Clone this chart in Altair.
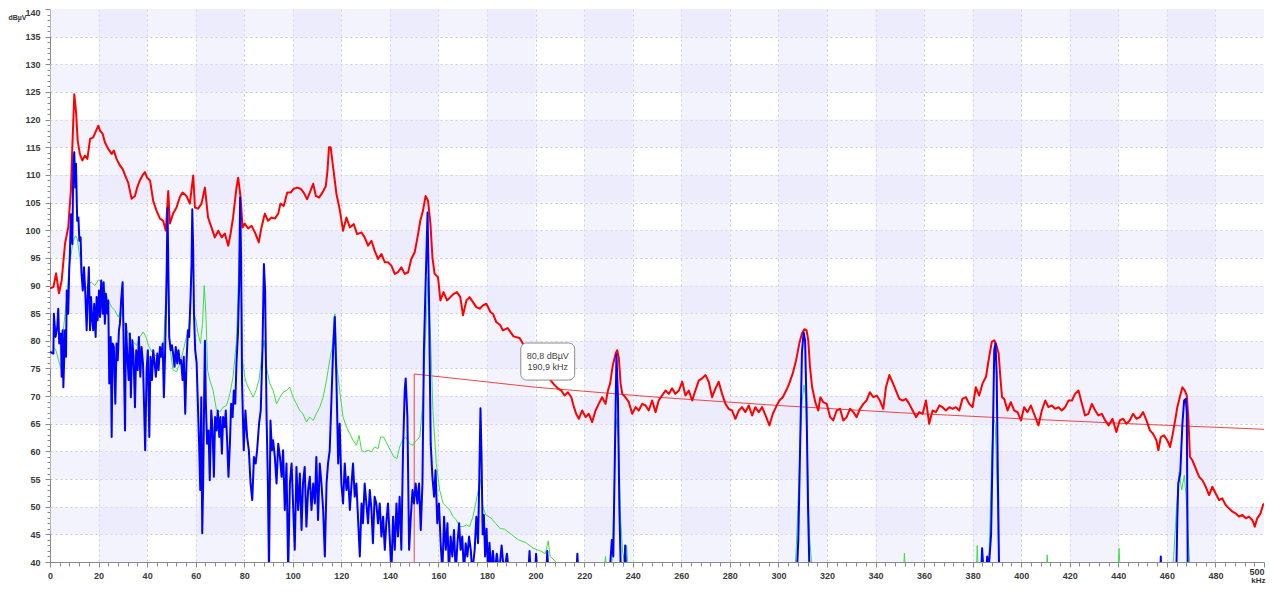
import altair as alt
import pandas as pd

# ---------------- data ----------------
red_khz = [0.0, 1.4, 2.5, 3.7, 4.8, 6.2, 7.5, 8.6, 9.2, 10.0, 10.7, 11.4, 12.3, 13.3, 14.4, 15.4, 16.5, 17.8, 19.0, 19.9,
           20.6, 21.7, 22.6, 24.0, 25.4, 26.3, 27.4, 28.8, 29.9, 31.3, 32.2, 33.6, 35.0, 35.9, 37.0, 38.1, 39.1, 40.0, 41.2, 42.5,
           43.9, 45.3, 46.6, 47.7, 48.7, 49.4, 50.7, 52.1, 53.5, 54.6, 56.2, 57.6, 59.0, 59.7, 61.0, 62.4, 63.8, 65.1, 66.5, 67.9,
           69.3, 70.7, 72.0, 73.4, 74.4, 75.4, 76.8, 77.5, 78.5, 79.3, 80.2, 81.6, 83.0, 84.4, 86.0, 87.1, 88.5, 89.8, 91.2, 92.6,
           94.0, 94.9, 96.3, 97.7, 99.1, 100.4, 101.8, 103.2, 104.5, 105.9, 107.0, 108.4, 109.5, 110.8, 112.2, 113.6, 114.3, 114.9, 115.6, 116.6,
           118.0, 119.3, 120.7, 122.1, 123.5, 125.1, 126.5, 128.3, 129.6, 131.0, 132.4, 133.7, 135.1, 136.5, 137.9, 139.2, 140.6, 142.0, 143.3, 144.7,
           146.1, 147.5, 148.8, 150.2, 151.6, 152.5, 153.6, 154.7, 155.7, 156.7, 157.5, 158.4, 159.8, 160.8, 162.1, 163.5, 164.9, 166.3, 167.6, 169.0,
           170.1, 171.5, 172.8, 174.2, 175.6, 177.0, 178.3, 179.7, 181.4, 182.4, 183.8, 185.5, 186.5, 188.5, 190.9, 193.4, 196.0, 199.0, 202.0, 205.0,
           207.8, 209.2, 210.6, 211.9, 213.3, 214.7, 215.8, 216.7, 217.8, 219.2, 220.6, 221.9, 223.3, 224.7, 226.0, 227.4, 228.8, 229.8, 230.7, 231.8,
           233.0, 233.6, 234.3, 235.0, 235.7, 237.0, 238.4, 239.8, 241.2, 242.5, 243.9, 245.3, 246.6, 248.0, 249.4, 250.7, 252.1, 253.5, 254.9, 256.2,
           257.6, 259.0, 260.4, 261.7, 263.1, 264.5, 265.8, 267.2, 268.6, 270.0, 271.3, 272.7, 274.1, 275.4, 276.8, 278.2, 279.5, 280.9, 282.3, 283.7,
           285.0, 286.4, 287.8, 289.2, 290.5, 291.9, 293.3, 294.7, 296.3, 297.7, 299.0, 300.4, 301.8, 303.2, 304.5, 305.9, 307.3, 308.6, 309.7, 310.7,
           311.6, 312.3, 313.0, 313.9, 315.2, 316.4, 317.3, 318.5, 319.9, 321.3, 322.6, 324.0, 325.4, 326.7, 328.1, 329.5, 330.9, 332.2, 333.6, 335.0,
           336.3, 337.7, 339.1, 340.5, 341.8, 343.2, 344.3, 345.7, 347.2, 348.4, 349.8, 351.2, 352.5, 353.9, 355.3, 356.7, 358.0, 359.4, 360.8, 362.1,
           363.5, 364.9, 366.3, 367.6, 369.0, 370.4, 371.7, 373.1, 374.5, 375.8, 377.2, 378.6, 380.0, 381.3, 382.7, 384.1, 385.5, 386.8, 387.9, 388.9,
           389.8, 390.7, 391.4, 392.1, 393.0, 394.4, 395.7, 397.1, 398.5, 399.9, 401.2, 402.6, 404.0, 405.3, 407.1, 408.5, 409.9, 411.2, 412.6, 414.0,
           415.4, 416.7, 418.1, 419.5, 420.9, 422.2, 423.6, 425.0, 426.3, 427.7, 429.1, 430.5, 431.8, 433.2, 434.6, 436.0, 437.6, 439.2, 440.6, 442.0,
           443.3, 444.7, 446.1, 447.5, 448.9, 450.2, 451.6, 453.0, 454.3, 455.7, 456.5, 457.5, 458.8, 460.2, 461.3, 462.3, 463.4, 464.3, 465.3, 466.4,
           467.4, 468.2, 468.9, 469.5, 470.5, 471.9, 473.3, 474.6, 476.0, 477.4, 478.7, 480.1, 481.5, 482.8, 484.2, 485.6, 487.0, 488.3, 489.7, 491.1,
           492.5, 493.8, 495.2, 496.2, 497.2, 498.6, 499.6, 500.0]
red_db = [89.5, 89.7, 92.2, 88.6, 90.9, 97.6, 100.5, 107.1, 115.0, 124.6, 121.6, 116.2, 113.8, 112.6, 113.5, 112.9, 116.5, 116.8, 118.0, 118.9,
          118.0, 117.4, 115.9, 114.7, 113.8, 114.4, 112.9, 111.7, 111.1, 109.5, 108.6, 105.7, 106.2, 107.7, 109.0, 109.9, 110.5, 109.5, 109.0, 105.3,
          103.5, 102.1, 101.7, 99.9, 107.1, 101.2, 103.0, 104.1, 106.0, 106.8, 106.2, 104.8, 109.9, 104.1, 103.9, 104.8, 107.7, 102.3, 100.5, 98.7,
          99.9, 98.7, 99.4, 97.2, 99.4, 102.3, 107.7, 109.5, 105.9, 100.5, 101.2, 100.3, 100.8, 99.6, 97.8, 100.5, 103.0, 101.7, 102.3, 102.1,
          103.0, 104.8, 104.4, 106.8, 106.8, 107.5, 107.7, 107.5, 106.8, 105.6, 106.8, 108.4, 106.2, 105.9, 106.8, 108.0, 110.8, 115.0, 115.0, 111.4,
          106.5, 103.8, 99.9, 102.3, 100.5, 101.1, 99.3, 99.6, 98.7, 97.2, 98.1, 96.3, 94.8, 95.7, 94.2, 94.2, 93.6, 92.1, 92.4, 93.3,
          92.1, 92.4, 94.8, 96.0, 99.3, 101.7, 103.5, 106.2, 105.3, 101.1, 95.1, 92.1, 91.5, 87.3, 88.8, 87.3, 87.9, 88.5, 88.8, 87.9,
          84.6, 87.3, 87.9, 87.0, 86.1, 85.8, 86.4, 86.7, 85.2, 84.9, 83.4, 82.8, 81.9, 82.3, 80.8, 80.5, 78.5, 76.5, 74.8, 73.5,
          72.0, 71.4, 71.0, 70.1, 70.7, 69.8, 68.0, 66.8, 65.9, 67.4, 66.2, 66.8, 65.3, 67.4, 68.6, 69.8, 68.6, 71.0, 72.3, 75.6,
          77.7, 78.3, 76.8, 72.3, 70.4, 69.8, 68.9, 66.8, 68.0, 67.4, 68.6, 68.3, 67.4, 69.2, 67.1, 69.2, 70.1, 71.0, 70.4, 71.4,
          70.4, 71.0, 72.6, 70.1, 71.0, 69.2, 71.0, 72.8, 73.2, 73.8, 72.6, 69.8, 71.4, 72.6, 70.4, 68.6, 67.7, 67.4, 65.9, 67.4,
          68.0, 67.1, 68.3, 66.5, 68.0, 67.1, 68.0, 66.5, 64.7, 66.8, 68.0, 69.2, 69.8, 71.0, 72.3, 74.1, 76.5, 79.5, 81.3, 82.1,
          81.9, 80.1, 75.3, 71.6, 68.9, 67.4, 69.8, 68.9, 68.6, 66.2, 65.6, 67.4, 67.7, 65.6, 66.2, 67.7, 67.1, 66.2, 67.7, 68.6,
          69.2, 70.7, 69.8, 70.1, 69.2, 67.7, 71.6, 73.8, 72.3, 71.0, 69.5, 69.2, 69.5, 68.6, 67.4, 66.2, 67.1, 66.8, 69.2, 65.0,
          67.4, 67.1, 68.3, 68.0, 67.4, 68.0, 67.7, 68.0, 67.4, 69.5, 69.8, 68.6, 68.0, 71.6, 70.1, 72.3, 73.5, 77.1, 79.8, 80.1,
          79.2, 77.7, 73.5, 69.8, 69.5, 67.4, 68.9, 67.4, 67.1, 65.6, 68.0, 67.1, 68.3, 66.8, 64.7, 67.4, 69.2, 68.0, 68.3, 67.7,
          68.0, 67.4, 68.0, 69.2, 69.2, 70.4, 71.0, 68.6, 66.5, 66.8, 68.6, 67.4, 66.5, 66.8, 65.6, 64.7, 65.9, 63.5, 65.6, 65.9,
          65.0, 65.6, 66.8, 65.9, 66.2, 67.1, 65.6, 63.8, 63.2, 62.0, 60.2, 62.6, 62.9, 62.0, 60.8, 62.9, 65.6, 68.0, 69.8, 71.6,
          71.0, 70.1, 65.6, 59.0, 58.4, 56.9, 55.4, 54.8, 53.6, 52.1, 53.6, 52.4, 51.2, 51.5, 50.3, 49.7, 49.1, 48.8, 48.2, 48.5,
          47.9, 48.2, 47.6, 46.4, 47.9, 48.8, 50.3, 50.6]

blue_khz = [0.0, 1.4, 1.6, 2.3, 3.0, 3.4, 3.8, 4.5, 4.8, 5.2, 5.5, 6.2, 6.6, 6.9, 7.5, 7.9, 8.2, 8.6, 9.2, 9.6,
            10.0, 10.4, 10.7, 11.2, 11.7, 12.1, 12.6, 13.0, 13.5, 14.0, 14.5, 15.1, 15.5, 16.0, 16.5, 16.9, 17.3, 17.8, 18.2, 18.8,
            19.2, 19.6, 20.2, 20.6, 21.1, 21.7, 22.1, 22.6, 23.0, 23.6, 24.0, 24.4, 25.0, 25.4, 25.8, 26.3, 26.9, 27.4, 27.9, 28.4,
            28.8, 29.3, 29.9, 30.2, 30.9, 31.3, 31.8, 32.4, 32.9, 33.3, 33.9, 34.4, 35.0, 35.5, 36.1, 36.6, 37.2, 37.7, 38.3, 38.8,
            39.2, 39.8, 40.3, 40.9, 41.4, 42.0, 42.5, 43.1, 43.6, 44.2, 44.7, 45.3, 45.8, 46.4, 46.9, 47.4, 48.0, 48.4, 48.9, 49.1,
            49.7, 50.2, 50.7, 51.3, 51.8, 52.4, 52.9, 53.5, 54.0, 54.6, 55.1, 55.7, 56.2, 56.8, 57.3, 57.9, 58.3, 58.6, 59.0, 59.3,
            59.8, 60.4, 60.9, 61.4, 61.9, 62.3, 62.7, 63.1, 63.5, 63.8, 64.2, 64.7, 65.3, 65.8, 66.4, 66.9, 67.5, 68.0, 68.6, 69.1,
            69.7, 70.2, 70.8, 71.3, 71.9, 72.4, 73.0, 73.5, 74.1, 74.6, 75.2, 75.7, 76.3, 76.8, 77.4, 77.9, 78.3, 78.7, 79.1, 79.8,
            80.5, 81.2, 81.9, 82.6, 83.3, 84.0, 84.7, 85.3, 86.1, 86.8, 87.5, 88.1, 88.6, 89.2, 89.7, 90.2, 90.8, 91.4, 91.9, 92.6,
            93.3, 94.0, 94.7, 95.4, 96.0, 96.7, 97.4, 98.1, 98.8, 99.5, 100.1, 100.8, 101.5, 102.2, 102.9, 103.6, 104.2, 104.9, 105.6, 106.3,
            107.0, 107.7, 108.4, 109.1, 109.7, 110.4, 111.1, 111.8, 112.5, 113.2, 113.9, 114.5, 115.2, 115.9, 116.6, 117.3, 118.0, 118.7, 119.3, 120.0,
            120.7, 121.4, 122.1, 122.8, 123.5, 124.2, 124.8, 125.5, 126.2, 126.9, 127.6, 128.3, 128.9, 129.6, 130.3, 131.0, 131.7, 132.4, 133.0, 133.7,
            134.4, 135.1, 135.8, 136.5, 137.2, 137.9, 138.5, 139.2, 139.9, 140.6, 141.3, 142.0, 142.7, 143.3, 144.0, 144.7, 145.4, 146.1, 146.5, 147.2,
            147.9, 148.6, 149.3, 149.9, 150.6, 151.3, 152.0, 152.7, 153.4, 154.0, 154.7, 155.5, 156.1, 156.8, 157.5, 158.2, 158.8, 159.5, 160.2, 160.9,
            161.6, 162.3, 163.0, 163.7, 164.3, 165.0, 165.7, 166.4, 167.1, 167.8, 168.5, 169.1, 169.8, 170.5, 171.2, 171.9, 172.6, 173.3, 173.9, 174.9,
            175.6, 176.3, 176.8, 177.3, 177.7, 178.2, 178.7, 179.2, 179.8, 180.4, 181.0, 181.7, 182.4, 183.2, 184.0, 185.0, 186.0, 187.0, 188.2, 189.0,
            197.0, 197.5, 198.0, 199.8, 200.2, 200.8, 204.4, 204.8, 205.3, 216.8, 217.2, 217.6, 230.5, 231.4, 232.0, 232.6, 233.3, 233.9, 234.5, 235.0,
            236.5, 236.9, 237.3, 307.6, 308.2, 309.0, 309.7, 310.4, 311.0, 311.6, 312.2, 312.8, 383.5, 383.9, 384.5, 385.5, 386.0, 386.5, 387.6, 388.3,
            388.9, 389.4, 389.9, 390.4, 390.9, 457.3, 457.5, 457.7, 463.9, 464.3, 464.7, 465.5, 466.4, 467.1, 467.8, 468.2, 468.6, 500.0]
blue_db = [78.0, 77.7, 84.9, 80.7, 82.5, 85.8, 79.5, 81.3, 73.5, 81.9, 71.6, 81.9, 77.1, 89.1, 84.9, 92.7, 95.7, 102.9, 97.5, 112.0,
           114.1, 107.7, 112.0, 101.7, 102.3, 98.1, 98.7, 92.1, 89.1, 93.3, 89.1, 81.9, 87.9, 93.3, 81.9, 87.9, 84.3, 81.9, 86.7, 80.7,
           87.9, 83.7, 89.1, 84.3, 90.9, 84.9, 90.6, 83.1, 88.5, 84.9, 87.3, 72.3, 80.7, 62.6, 79.5, 78.9, 68.6, 79.5, 76.5, 81.9,
           83.1, 87.3, 90.6, 83.1, 63.8, 83.1, 77.7, 72.9, 81.3, 69.8, 80.1, 77.1, 68.0, 78.3, 74.7, 80.7, 73.5, 78.9, 75.9, 67.4,
           60.2, 74.7, 78.3, 62.6, 77.1, 72.9, 78.3, 75.9, 73.5, 77.7, 74.7, 78.9, 77.1, 79.5, 69.8, 77.7, 90.9, 104.0, 88.0, 80.7,
           78.3, 79.2, 77.7, 75.3, 78.9, 75.9, 78.3, 75.9, 76.5, 72.9, 77.1, 66.8, 75.9, 81.9, 80.7, 87.9, 93.9, 103.8, 96.0, 84.9,
           78.3, 75.9, 68.6, 61.4, 53.0, 69.8, 45.2, 54.8, 70.0, 80.0, 68.6, 61.4, 63.8, 54.8, 67.4, 64.4, 55.4, 66.2, 63.8, 67.4,
           62.6, 66.2, 59.6, 66.2, 64.4, 67.4, 61.4, 55.4, 61.4, 68.6, 66.2, 71.0, 68.6, 75.9, 81.3, 90.0, 105.9, 95.0, 72.3, 60.2,
           67.4, 62.6, 60.2, 54.2, 51.2, 59.0, 57.8, 60.2, 65.0, 67.4, 78.3, 93.9, 89.1, 66.2, 55.4, 38.0, 65.6, 60.2, 62.0, 59.0,
           54.2, 61.4, 59.0, 55.4, 60.2, 49.4, 57.8, 38.0, 54.2, 57.8, 50.6, 42.2, 57.2, 49.4, 56.0, 45.8, 54.2, 57.2, 46.4, 53.0,
           55.4, 49.4, 54.2, 50.6, 59.0, 47.6, 57.8, 54.2, 49.4, 41.0, 54.2, 57.8, 60.2, 69.2, 78.3, 84.3, 72.3, 57.8, 65.0, 54.2,
           50.6, 57.8, 53.0, 55.4, 49.4, 54.2, 57.8, 51.8, 54.2, 47.6, 41.0, 50.6, 47.0, 54.2, 50.6, 47.0, 53.0, 49.4, 43.4, 51.8,
           50.6, 47.0, 50.6, 44.6, 48.2, 42.2, 47.0, 50.6, 44.6, 38.0, 48.2, 42.2, 50.6, 44.6, 51.8, 42.2, 60.2, 71.0, 73.2, 66.2,
           42.2, 48.2, 53.0, 50.6, 54.2, 50.6, 54.2, 45.8, 54.2, 78.3, 90.3, 103.2, 87.3, 61.4, 55.4, 51.8, 56.6, 47.0, 50.6, 43.4,
           38.0, 48.2, 42.2, 47.0, 38.0, 44.6, 41.0, 45.8, 38.0, 43.4, 47.0, 42.2, 44.6, 38.0, 43.4, 41.0, 44.6, 42.2, 38.0, 42.2,
           48.2, 43.4, 55.0, 67.8, 60.0, 45.0, 48.5, 41.0, 46.0, 38.0, 43.5, 38.0, 42.0, 38.0, 41.5, 38.0, 43.0, 38.0, 41.5, 38.0,
           38.0, 42.0, 38.0, 38.0, 41.5, 38.0, 38.0, 42.0, 38.0, 38.0, 41.5, 38.0, 38.0, 44.0, 41.0, 58.0, 77.5, 70.0, 50.0, 40.0,
           38.0, 43.0, 38.0, 38.0, 44.0, 62.0, 78.0, 81.5, 80.0, 68.0, 50.0, 38.0, 38.0, 42.5, 38.0, 38.0, 41.0, 38.0, 45.0, 62.0,
           78.3, 79.5, 74.0, 55.0, 38.0, 38.0, 41.0, 38.0, 38.0, 48.0, 54.2, 56.0, 65.0, 69.2, 69.5, 67.0, 38.0, 38.0]

green_khz = [1.0, 2.3, 3.7, 4.5, 5.5, 6.9, 7.9, 8.9, 9.6, 10.5, 11.2, 12.3, 13.0, 14.4, 15.8, 17.1, 18.5, 19.9, 21.3, 22.6,
             24.0, 25.4, 26.7, 28.1, 29.2, 30.2, 31.6, 32.9, 34.3, 35.7, 37.0, 38.4, 39.5, 40.5, 41.9, 43.3, 44.7, 46.0, 46.9, 47.7,
             48.3, 48.8, 49.1, 50.1, 50.7, 52.1, 53.5, 54.9, 56.2, 57.2, 57.9, 58.6, 59.0, 59.3, 60.1, 61.0, 62.0, 62.8, 63.5, 64.2,
             64.9, 65.8, 67.2, 68.6, 70.0, 71.3, 72.7, 74.1, 75.4, 76.8, 77.9, 78.4, 78.9, 79.2, 80.2, 80.9, 82.3, 83.7, 84.8, 86.1,
             87.5, 88.2, 89.4, 90.5, 91.9, 93.3, 94.7, 96.0, 97.4, 98.8, 100.1, 101.5, 102.9, 104.2, 105.6, 107.0, 108.4, 109.7, 111.1, 112.5,
             113.9, 115.2, 116.3, 117.0, 117.4, 118.2, 119.3, 120.7, 122.1, 123.5, 124.8, 126.2, 127.3, 128.3, 129.6, 131.0, 132.4, 133.7, 135.1, 136.2,
             137.4, 138.8, 140.2, 141.6, 142.9, 144.0, 145.1, 146.5, 148.1, 149.5, 150.9, 152.3, 153.6, 154.7, 155.7, 156.7, 157.7, 159.1, 160.5, 161.9,
             163.3, 164.6, 166.0, 167.4, 168.7, 170.1, 171.5, 172.8, 174.2, 175.6, 177.3, 178.3, 179.5, 181.5, 183.5, 185.5, 187.0, 190.0, 193.0, 196.0,
             199.0, 202.0, 204.0, 205.2, 206.0, 208.0, 210.0, 228.0, 228.8, 229.3, 231.5, 232.3, 233.0, 233.6, 234.3, 235.0, 235.8, 236.6, 237.5, 238.2,
             306.8, 307.4, 308.2, 309.0, 309.8, 310.5, 311.2, 312.0, 312.8, 313.6, 314.2, 351.5, 351.9, 352.3, 381.5, 381.9, 382.3, 386.5, 387.2, 387.9,
             388.6, 389.3, 390.0, 390.7, 391.2, 410.3, 410.7, 411.1, 439.8, 440.3, 440.8, 462.3, 462.8, 464.0, 465.0, 466.1, 467.2, 468.0, 468.8, 469.4,
             469.8, 500.0]
green_db = [79.0, 78.5, 76.2, 75.0, 81.9, 87.9, 93.3, 96.3, 98.1, 99.0, 98.5, 95.1, 91.5, 89.1, 90.3, 90.6, 90.0, 91.0, 90.6, 89.1,
            87.3, 86.1, 85.5, 84.3, 85.5, 83.7, 81.9, 80.7, 79.8, 79.2, 80.7, 81.6, 80.7, 79.2, 78.0, 77.4, 76.8, 77.7, 80.1, 87.9,
            98.0, 90.0, 80.1, 76.5, 74.7, 74.4, 75.9, 78.3, 80.7, 82.5, 87.9, 97.0, 92.0, 84.9, 83.7, 81.3, 79.5, 83.1, 90.0, 84.9,
            74.7, 72.9, 71.0, 67.4, 67.1, 68.0, 68.3, 70.4, 73.5, 80.1, 95.0, 101.0, 88.0, 77.0, 73.5, 72.3, 71.0, 69.8, 71.0, 72.9,
            78.3, 80.1, 74.7, 72.3, 71.0, 68.6, 69.8, 70.7, 71.0, 71.6, 69.8, 68.6, 67.4, 66.8, 65.3, 66.2, 65.6, 66.8, 68.0, 69.8,
            72.9, 76.5, 78.9, 84.3, 84.9, 75.3, 71.0, 66.2, 64.4, 63.2, 62.0, 61.1, 62.9, 60.2, 59.9, 60.2, 59.9, 60.8, 60.5, 62.6,
            62.6, 61.4, 60.2, 59.0, 58.7, 60.8, 62.0, 62.6, 61.4, 61.1, 62.0, 62.6, 69.2, 81.3, 91.5, 81.3, 67.4, 57.8, 53.0, 50.6,
            50.0, 49.4, 48.2, 47.6, 46.4, 46.4, 46.7, 46.4, 48.2, 51.2, 55.0, 50.0, 48.5, 48.0, 47.0, 46.0, 46.0, 45.0, 44.0, 43.5,
            42.5, 42.0, 41.5, 43.8, 41.0, 40.2, 38.0, 38.0, 41.0, 38.0, 40.0, 52.0, 64.0, 66.0, 60.0, 48.0, 42.0, 40.0, 43.0, 38.0,
            38.0, 43.0, 52.0, 62.0, 69.0, 72.0, 70.0, 58.0, 45.0, 40.0, 38.0, 38.0, 41.6, 38.0, 38.0, 43.0, 38.0, 38.0, 48.0, 60.0,
            66.0, 65.0, 55.0, 42.0, 38.0, 38.0, 41.3, 38.0, 38.0, 42.5, 38.0, 38.0, 41.0, 50.0, 56.3, 53.0, 55.7, 51.2, 44.0, 40.0,
            38.0, 38.0]

limit_khz = [150, 150, 175, 200, 250, 300, 350, 400, 450, 500]
limit_db = [38, 74, 72.8, 71.6, 69.8, 68.3, 67.0, 65.9, 64.9, 64.0]

y_ticks = list(range(40, 141))          # minor ticks every 1 dB, labels every 5
x_ticks = list(range(0, 501, 4))        # minor ticks every 4 kHz, labels every 20
hband_lo = list(range(45, 140, 10))     # shaded rows (5 dB high)
vband_lo = list(range(20, 480, 40))     # shaded columns (20 kHz wide)

tip_x = [193.9, 216.1]
tip_y = [79.6, 72.9]
tip_text = ["80,8 dBµV", "190,9 kHz"]
tip_text_x = [205.0, 205.0]
tip_text_y = [77.3, 75.2]

# ---------------- chart ----------------
W, H = 1214, 553
FONT = "Liberation Sans"

xs = alt.Scale(domain=[0, 500], nice=False, zero=False)
ys = alt.Scale(domain=[40, 140], nice=False, zero=False)

x_axis = alt.Axis(
    values=x_ticks,
    labelExpr="datum.value % 20 == 0 ? datum.label : ''",
    labelOverlap=False,
    labelFont=FONT, labelFontSize=9, labelFontWeight="bold", labelColor="#3a3a3a",
    labelPadding={"condition": {"test": "datum.value == 500", "value": 0}, "value": 4},
    labelAlign={"condition": {"test": "datum.value == 500", "value": "right"}, "value": "center"},
    tickSize={"condition": {"test": "datum.value % 20 == 0", "value": 5}, "value": 4},
    tickColor="#8a8a8a", domainColor="#8a8a8a",
    grid=True, gridColor="#c2c2cc", gridDash=[2, 3],
    gridOpacity={"condition": {"test": "datum.value % 20 == 0 && datum.value > 0 && datum.value < 500", "value": 1}, "value": 0},
    title="kHz", titleFont=FONT, titleFontSize=8, titleFontWeight="bold", titleColor="#333",
    titleX=W + 1, titleY=20, titleAlign="right", titleBaseline="alphabetic",
)
y_axis = alt.Axis(
    values=y_ticks,
    labelExpr="datum.value % 5 == 0 ? datum.label : ''",
    labelOverlap=False,
    labelFont=FONT, labelFontSize=9, labelFontWeight="bold", labelColor="#3a3a3a",
    labelPadding=5,
    labelBaseline={"condition": {"test": "datum.value == 140", "value": "top"}, "value": "middle"},
    labelOffset={"condition": {"test": "datum.value == 140", "value": -1}, "value": 0},
    tickSize={"condition": {"test": "datum.value % 5 == 0", "value": 5}, "value": 3},
    tickColor="#8a8a8a", domainColor="#8a8a8a",
    grid=True, gridColor="#c2c2cc", gridDash=[2, 3],
    gridOpacity={"condition": {"test": "datum.value % 5 == 0 && datum.value > 40 && datum.value < 140", "value": 1}, "value": 0},
    title="dBµV", titleAngle=0, titleFont=FONT, titleFontSize=7, titleFontWeight="bold", titleColor="#333",
    titleX=-42, titleY=8, titleAlign="left", titleBaseline="middle",
)

hb = pd.DataFrame({"lo": hband_lo})
vb = pd.DataFrame({"lo": vband_lo})

hbands = alt.Chart(hb).mark_rect(fill="#e4e4fa", opacity=0.45).transform_calculate(hi="datum.lo + 5").encode(
    x=alt.value(0), x2=alt.value("width"),
    y=alt.Y("lo:Q", scale=ys, axis=y_axis), y2="hi:Q")
vbands = alt.Chart(vb).mark_rect(fill="#e4e4fa", opacity=0.45).transform_calculate(hi="datum.lo + 20").encode(
    y=alt.value(0), y2=alt.value("height"),
    x=alt.X("lo:Q", scale=xs, axis=x_axis), x2="hi:Q")


def trace(khz, db, color, width):
    df = pd.DataFrame({"khz": khz, "db": db, "i": range(len(khz))})
    return alt.Chart(df).mark_line(color=color, strokeWidth=width, clip=True, strokeJoin="round").encode(
        x=alt.X("khz:Q", scale=xs, axis=x_axis),
        y=alt.Y("db:Q", scale=ys, axis=y_axis),
        order="i:Q")


limit = trace(limit_khz, limit_db, "#f04545", 1)
red = trace(red_khz, red_db, "#ff0000", 2)
green = trace(green_khz, green_db, "#3fe03f", 1)
blue = trace(blue_khz, blue_db, "#0000ff", 2)

tip_df = pd.DataFrame({"x1": [tip_x[0]], "x2": [tip_x[1]], "y1": [tip_y[0]], "y2": [tip_y[1]]})
tip_shadow = alt.Chart(tip_df).mark_rect(fill="#000000", opacity=0.18, cornerRadius=6, xOffset=2, yOffset=2).encode(
    x=alt.X("x1:Q", scale=xs, axis=x_axis), x2="x2:Q", y=alt.Y("y1:Q", scale=ys, axis=y_axis), y2="y2:Q")
tip_box = alt.Chart(tip_df).mark_rect(fill="#ffffff", stroke="#8c8c8c", strokeWidth=1, cornerRadius=6).encode(
    x=alt.X("x1:Q", scale=xs, axis=x_axis), x2="x2:Q", y=alt.Y("y1:Q", scale=ys, axis=y_axis), y2="y2:Q")
tt_df = pd.DataFrame({"x": tip_text_x, "y": tip_text_y, "t": tip_text})
tip_txt = alt.Chart(tt_df).mark_text(font=FONT, fontSize=9, color="#444444", align="center", baseline="middle").encode(
    x=alt.X("x:Q", scale=xs, axis=x_axis), y=alt.Y("y:Q", scale=ys, axis=y_axis), text="t:N")

chart = alt.layer(hbands, vbands, limit, red, green, blue, tip_shadow, tip_box, tip_txt).properties(
    width=W, height=H,
    autosize=alt.AutoSizeParams(type="none"),
    padding={"left": 42, "top": 1, "right": 2, "bottom": 22},
    background="#ffffff",
).configure_view(stroke=None)

chart.save("out.html", embed_options={"renderer": "svg", "actions": False})
